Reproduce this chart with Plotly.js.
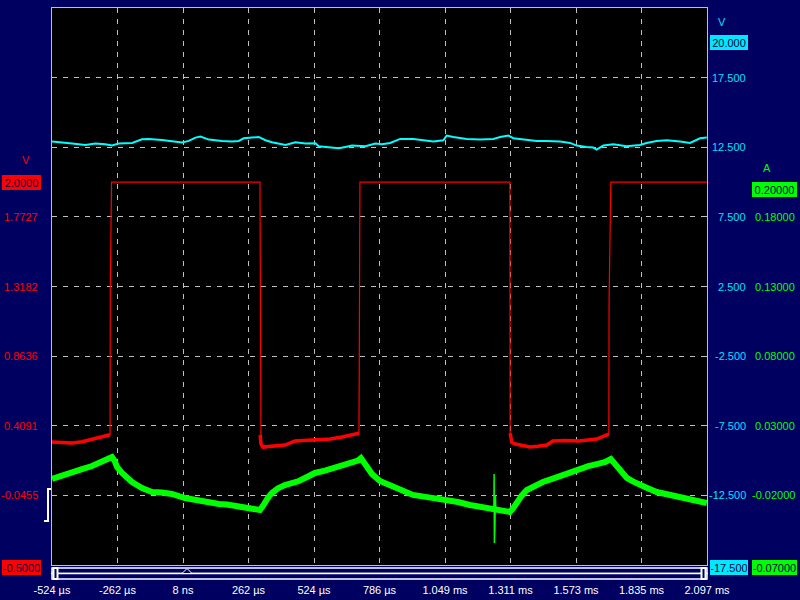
<!DOCTYPE html>
<html>
<head>
<meta charset="utf-8">
<script src="https://cdn.plot.ly/plotly-3.0.1.min.js"></script>
<style>html,body{margin:0;padding:0;background:#000060;}#chart{width:800px;height:600px;}</style>
</head>
<body>
<div id="chart"></div>
<script>
// ---- Time axis (µs) ----
const xRange = [-524.2, 2096.8];
const xTickVals = [-524.2, -262.1, 0, 262.1, 524.2, 786.3, 1048.4, 1310.5, 1572.6, 1834.7, 2096.8];
const xTickText = ['-524 µs', '-262 µs', '8 ns', '262 µs', '524 µs', '786 µs', '1.049 ms', '1.311 ms', '1.573 ms', '1.835 ms', '2.097 ms'];
const triggerT = 16;

// ---- Red channel (V, left scale) ----
const redRange = [-0.5, 3.13636];
const redTickVals = [1.7727, 1.3182, 0.8636, 0.4091, -0.0455];
const redTickText = ['1.7727', '1.3182', '0.8636', '0.4091', '-0.0455'];
const redBadgeVals = [2.0, -0.5];
const redBadgeText = ['2.0000', '-0.5000'];
const redT = [-524, -484, -444, -404, -364, -320, -296, -292, -291, -286, 308, 309, 312, 320, 360, 408, 448, 500, 544, 590, 636, 676, 700, 704, 705, 708,
              1307, 1308, 1309, 1316, 1330, 1388, 1420, 1456, 1480, 1530, 1588, 1620, 1656, 1696, 1703, 1704, 1705, 1712, 2097];
const redV = [0.303, 0.300, 0.296, 0.305, 0.322, 0.342, 0.349, 0.350, 1.295, 2.0, 2.0, 0.349, 0.290, 0.270, 0.275, 0.283, 0.309, 0.312, 0.316, 0.322, 0.336, 0.349, 0.355, 0.360, 0.675, 2.0,
              2.0, 2.0, 0.360, 0.300, 0.290, 0.270, 0.275, 0.283, 0.309, 0.312, 0.309, 0.316, 0.322, 0.349, 0.352, 0.355, 1.230, 2.0, 2.0];

// ---- Cyan channel (V, right scale) ----
const cyanRange = [-17.5, 22.5];
const cyanTickVals = [17.5, 12.5, 7.5, 2.5, -2.5, -7.5, -12.5];
const cyanTickText = ['17.500', '12.500', '7.500', '2.500', '-2.500', '-7.500', '-12.500'];
const cyanBadgeVals = [20, -17.5];
const cyanBadgeText = ['20.000', '-17.500'];
const cyanT = [-524, -484, -444, -391, -351, -311, -284, -257, -204, -164, -137, -84, -44, -4, 23, 50, 70, 103, 156, 196, 223, 243, 276, 303, 330, 356, 410, 450, 490, 530, 543, 583, 623, 650, 676, 730, 770, 796,
               829, 869, 922, 962, 1002, 1042, 1055, 1082, 1135, 1189, 1242, 1269, 1302, 1322, 1362, 1415, 1455, 1509, 1549, 1575, 1615, 1642, 1655, 1682, 1722, 1775, 1829, 1855, 1895, 1936, 1989, 2029, 2069, 2096];
const cyanV = [12.907, 12.811, 12.763, 12.668, 12.763, 12.715, 12.620, 12.763, 12.811, 13.074, 13.098, 13.027, 12.907, 12.835, 12.955, 13.194, 13.266, 13.051, 12.955, 12.907, 12.955, 13.146, 13.194, 13.242, 13.003, 12.859, 12.668, 12.859, 12.763, 12.787, 12.572, 12.476, 12.428, 12.524, 12.620, 12.572, 12.763, 12.715,
               12.811, 13.098, 13.098, 13.003, 12.907, 13.003, 13.338, 13.242, 13.098, 13.051, 13.098, 13.242, 13.338, 13.146, 13.051, 12.955, 12.955, 12.907, 12.811, 12.620, 12.524, 12.476, 12.333, 12.620, 12.715, 12.572, 12.668, 12.811, 12.955, 13.003, 12.907, 12.811, 13.146, 13.194];

// ---- Green channel (A, far right scale) ----
const greenRange = [-0.07, 0.33];
const greenTickVals = [0.18, 0.13, 0.08, 0.03, -0.02];
const greenTickText = ['0.18000', '0.13000', '0.08000', '0.03000', '-0.02000'];
const greenBadgeVals = [0.2, -0.07];
const greenBadgeText = ['0.20000', '-0.07000'];
const greenT = [-524, -484, -444, -404, -364, -330, -296, -284, -274, -264, -244, -224, -204, -164, -124, -84, -44, 8, 40, 76, 110, 144, 176, 208, 240, 276, 300, 308, 318, 328, 342, 356, 380, 408, 436, 464, 496, 528, 568, 608, 642, 676, 700, 712, 722, 732, 756, 788,
                828, 868, 920, 990, 1056, 1100, 1148, 1184, 1216, 1244, 1264, 1280, 1308, 1322, 1336, 1356, 1376, 1408, 1440, 1480, 1520, 1554, 1588, 1622, 1656, 1690, 1712, 1724, 1736, 1756, 1776, 1800, 1828, 1862, 1896, 1928, 1960, 1994, 2028, 2062, 2096];
const greenV = [-0.0082, -0.0062, -0.0039, -0.0012, 0.0011, 0.0038, 0.0061, 0.0076, 0.0050, 0.0004, -0.0039, -0.0075, -0.0104, -0.0147, -0.0176, -0.0180, -0.0190, -0.0219, -0.0230, -0.0248, -0.0252, -0.0262, -0.0266, -0.0276, -0.0280, -0.0291, -0.0298, -0.0305, -0.0280, -0.0248, -0.0212, -0.0183, -0.0150, -0.0126, -0.0112, -0.0097, -0.0068, -0.0039, -0.0022, -0.0003, 0.0014, 0.0032, 0.0050, 0.0068, 0.0045, 0.0011, -0.0047, -0.0097,
                -0.0130, -0.0161, -0.0197, -0.0216, -0.0233, -0.0248, -0.0269, -0.0280, -0.0291, -0.0298, -0.0300, -0.0305, -0.0319, -0.0290, -0.0248, -0.0200, -0.0161, -0.0130, -0.0104, -0.0080, -0.0054, -0.0030, -0.0003, 0.0010, 0.0025, 0.0040, 0.0061, 0.0035, -0.0003, -0.0040, -0.0075, -0.0100, -0.0126, -0.0150, -0.0176, -0.0190, -0.0205, -0.0220, -0.0233, -0.0245, -0.0255];
const greenSpikeT = [1240, 1244, 1245, 1246, 1247, 1248, 1250, 1252];
const greenSpikeV = [-0.0291, -0.0298, -0.0047, -0.0542, -0.0100, -0.0440, -0.0200, -0.0298];

// ---- Colours ----
const NAVY = '#000060', GRID = '#c0c0c0';
const RED = '#ff0000', CYAN = '#00ffff', CYAN_TXT = '#00e0ff', GREEN = '#00ff00';

const redLowV = redV.map(v => (v < 0.5 ? v : null));

const traces = [
  {x: cyanT, y: cyanV, yaxis: 'y2', type: 'scatter', mode: 'lines', line: {color: CYAN, width: 2}},
  {x: redT, y: redV, yaxis: 'y', type: 'scatter', mode: 'lines', line: {color: RED, width: 1.2}},
  {x: redT, y: redLowV, yaxis: 'y', type: 'scatter', mode: 'lines', connectgaps: false, line: {color: RED, width: 3.5}},
  {x: greenT, y: greenV, yaxis: 'y3', type: 'scatter', mode: 'lines', line: {color: GREEN, width: 6}},
  {x: greenSpikeT, y: greenSpikeV, yaxis: 'y3', type: 'scatter', mode: 'lines', line: {color: GREEN, width: 1.5}}
];

const FONT = 'Liberation Sans, Arial, sans-serif';
const ann = [];
function addLabels(vals, texts, yref, xpos, xshift, color) {
  vals.forEach((v, i) => ann.push({xref: 'paper', x: xpos, xshift: xshift, xanchor: 'right', yref: yref, y: v, yanchor: 'middle',
    text: texts[i], showarrow: false, font: {family: FONT, size: 11, color: color}}));
}
function addBadges(vals, texts, yref, xpos, xshift, w, bg) {
  vals.forEach((v, i) => ann.push({xref: 'paper', x: xpos, xshift: xshift, xanchor: 'center', yref: yref, y: v, yanchor: 'middle',
    yshift: i === 1 ? -2 : 0,
    text: texts[i], showarrow: false, bgcolor: bg, bordercolor: bg, borderwidth: 1, borderpad: 0, width: w, height: 13,
    font: {family: FONT, size: 11, color: '#000040'}}));
}
addLabels(redTickVals, redTickText, 'y', 0, -12, RED);
addLabels(cyanTickVals, cyanTickText, 'y2', 1, 41, CYAN_TXT);
addLabels(greenTickVals, greenTickText, 'y3', 1, 90, GREEN);
addBadges(redBadgeVals, redBadgeText, 'y', 0, -30.5, 37, RED);
addBadges(cyanBadgeVals, cyanBadgeText, 'y2', 1, 22, 36, '#00e8ff');
addBadges(greenBadgeVals, greenBadgeText, 'y3', 1, 67.5, 43, GREEN);
// unit labels
ann.push({xref: 'paper', x: 0, xshift: -32, yref: 'y', y: redBadgeVals[0], yshift: 22, text: 'V', showarrow: false, font: {family: FONT, size: 11, color: RED}});
ann.push({xref: 'paper', x: 1, xshift: 21, yref: 'y2', y: cyanBadgeVals[0], yshift: 21, text: 'V', showarrow: false, font: {family: FONT, size: 11, color: CYAN_TXT}});
ann.push({xref: 'paper', x: 1, xshift: 66, yref: 'y3', y: greenBadgeVals[0], yshift: 21, text: 'A', showarrow: false, font: {family: FONT, size: 11, color: GREEN}});

const shapes = [
  // scroll bar
  {type: 'rect', xref: 'paper', x0: 0, x1: 1, yref: 'paper', ysizemode: 'pixel', yanchor: 0, y0: -3, y1: -8.5, line: {color: '#ffffff', width: 1.5}, fillcolor: NAVY},
  {type: 'rect', xref: 'paper', x0: 0, x1: 1, yref: 'paper', ysizemode: 'pixel', yanchor: 0, y0: -8.5, y1: -14, line: {color: '#ffffff', width: 1.5}, fillcolor: NAVY},
  {type: 'rect', xref: 'paper', xsizemode: 'pixel', xanchor: 0, x0: 1.5, x1: 5.5, yref: 'paper', ysizemode: 'pixel', yanchor: 0, y0: -3, y1: -14, line: {color: '#ffffff', width: 2}, fillcolor: NAVY},
  {type: 'rect', xref: 'paper', xsizemode: 'pixel', xanchor: 1, x0: -5.5, x1: -1.5, yref: 'paper', ysizemode: 'pixel', yanchor: 0, y0: -3, y1: -14, line: {color: '#ffffff', width: 2}, fillcolor: NAVY},
  {type: 'path', xref: 'x', xsizemode: 'pixel', xanchor: triggerT, yref: 'paper', ysizemode: 'pixel', yanchor: 0, path: 'M -5,-8.5 L 0,-3.5 L 5,-8.5 Z', line: {color: '#ffffff', width: 1}, fillcolor: NAVY},
  // trigger bracket
  {type: 'path', xref: 'paper', xsizemode: 'pixel', xanchor: 0, yref: 'paper', ysizemode: 'pixel', yanchor: 0, path: 'M -1,76 L -4,76 L -4,44 L -8,44', line: {color: '#ffffff', width: 2}}
];

const layout = {
  width: 800, height: 600,
  paper_bgcolor: NAVY, plot_bgcolor: '#000000',
  margin: {l: 52, r: 93, t: 8, b: 35},
  showlegend: false, hovermode: false,
  xaxis: {range: xRange, tickmode: 'array', tickvals: xTickVals, ticktext: xTickText,
    showgrid: true, gridcolor: GRID, griddash: '5px,6px', gridwidth: 1, zeroline: false,
    showline: true, mirror: true, linecolor: GRID, linewidth: 1, ticks: '',
    tickfont: {family: FONT, size: 11, color: '#ffffff'}, ticklabelstandoff: 15},
  yaxis: {range: redRange, showgrid: false, zeroline: false, showticklabels: false,
    showline: true, mirror: true, linecolor: GRID, linewidth: 1, ticks: ''},
  yaxis2: {range: cyanRange, overlaying: 'y', side: 'right', tickmode: 'array', tickvals: cyanTickVals,
    showgrid: true, gridcolor: GRID, griddash: '5px,6px', gridwidth: 1, zeroline: false, showticklabels: false,
    showline: false, ticks: 'inside', ticklen: 4, tickcolor: GRID, mirror: 'ticks'},
  yaxis3: {range: greenRange, overlaying: 'y', side: 'right', showgrid: false, zeroline: false, showticklabels: false, showline: false, ticks: ''},
  annotations: ann,
  shapes: shapes
};

Plotly.newPlot('chart', traces, layout, {staticPlot: true, displayModeBar: false});
</script>
</body>
</html>
